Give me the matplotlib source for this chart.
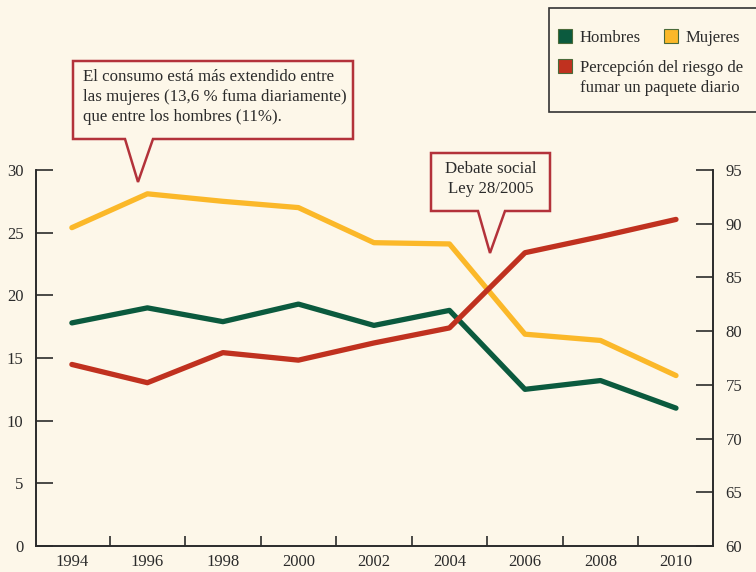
import matplotlib
matplotlib.use('Agg')
import matplotlib.pyplot as plt
from matplotlib.patches import Rectangle, Polygon

plt.rcParams['font.family'] = ['Liberation Serif', 'DejaVu Serif']

# datos
YEARS = [1994, 1996, 1998, 2000, 2002, 2004, 2006, 2008, 2010]
HOMBRES = [17.8, 19.0, 17.9, 19.3, 17.6, 18.8, 12.5, 13.2, 11.0]
MUJERES = [25.4, 28.1, 27.5, 27.0, 24.2, 24.1, 16.9, 16.4, 13.6]
RIESGO = [76.9, 75.2, 78.0, 77.3, 78.9, 80.3, 87.3, 88.8, 90.4]

LEFT_TICKS = [0, 5, 10, 15, 20, 25, 30]
RIGHT_TICKS = [60, 65, 70, 75, 80, 85, 90, 95]

BG = '#fdf7e9'
GREEN = '#0b5a3e'
YELLOW = '#fbb829'
RED = '#c0311f'
BOX_RED = '#b3323a'
TXT = '#2b2b2b'

W, H = 756, 572
fig = plt.figure(figsize=(W / 100, H / 100), dpi=100, facecolor=BG)


def px(x, y):
    """pixel (desde arriba-izquierda) -> fracción de figura"""
    return x / W, 1 - y / H


ax = fig.add_axes([36 / W, 26 / H, (713 - 36) / W, (546 - 170) / H])
ax.set_facecolor(BG)
ax2 = ax.twinx()

ax.plot(YEARS, HOMBRES, color=GREEN, lw=3.8, solid_capstyle='round', zorder=3)
ax.plot(YEARS, MUJERES, color=YELLOW, lw=3.8, solid_capstyle='round', zorder=2)
ax2.plot(YEARS, RIESGO, color=RED, lw=3.8, solid_capstyle='round', zorder=2)

ax.set_xlim(1993.05, 2010.98)
ax.set_ylim(0, 30)
ax2.set_ylim(60, 95)

ax.set_xticks(YEARS)
ax.set_xticklabels([str(y) for y in YEARS])
ax.set_xticks([1995, 1997, 1999, 2001, 2003, 2005, 2007, 2009], minor=True)
ax.tick_params(axis='x', which='major', length=0, pad=6, labelsize=12, labelcolor=TXT)
ax.tick_params(axis='x', which='minor', direction='in', length=7, width=1.2, color=TXT)

ax.set_yticks(LEFT_TICKS)
ax.tick_params(axis='y', direction='in', length=12, width=1.2, color=TXT,
               labelsize=12, labelcolor=TXT, pad=9)
ax2.set_yticks(RIGHT_TICKS)
ax2.tick_params(axis='y', direction='in', length=12, width=1.2, color=TXT,
                labelsize=12, labelcolor=TXT, pad=9)

for a in (ax, ax2):
    a.spines['top'].set_visible(False)
    for s in ('left', 'right', 'bottom'):
        a.spines[s].set_color(TXT)
        a.spines[s].set_linewidth(1.2)

# leyenda
x0, y1 = px(549, 8)
x1, y0 = px(760, 112)
fig.patches.append(Rectangle((x0, y0), x1 - x0, y1 - y0, transform=fig.transFigure,
                             facecolor=BG, edgecolor='#333333', lw=1.2))
items = [(558, 29, GREEN, 'Hombres'), (664, 29, YELLOW, 'Mujeres'),
         (558, 59, RED, 'Percepción del riesgo de\nfumar un paquete diario')]
for sx, sy, col, lab in items:
    fx, fy = px(sx, sy + 14)
    fig.patches.append(Rectangle((fx, fy), 14 / W, 14 / H, transform=fig.transFigure,
                                 facecolor=col, edgecolor='#4a6a3a', lw=0.8))
    tx, ty = px(sx + 22, sy + 1)
    fig.text(tx, ty, lab, ha='left', va='top', fontsize=12, color=TXT, linespacing=1.3)


def callout(box, base, tip):
    l, t, r, b = box
    pts = [(l, t), (r, t), (r, b), (base[1], b), tip, (base[0], b), (l, b)]
    fig.patches.append(Polygon([px(*p) for p in pts], closed=True, transform=fig.transFigure,
                               facecolor=BG, edgecolor=BOX_RED, lw=1.8, zorder=5))
    return l, t, r, b


l, t, r, b = callout((73, 61, 353, 139), (125, 153), (138, 182))
tx, ty = px(83, 69)
fig.text(tx, ty, 'El consumo está más extendido entre\nlas mujeres (13,6 % fuma diariamente)\n'
         'que entre los hombres (11%).', ha='left', va='top', fontsize=12.2,
         color=TXT, linespacing=1.35, zorder=6)

l, t, r, b = callout((431, 153, 550, 211), (478, 505), (490, 253))
tx, ty = px((l + r) / 2, 161)
fig.text(tx, ty, 'Debate social\nLey 28/2005', ha='center', va='top', fontsize=12.2,
         color=TXT, linespacing=1.35, zorder=6)

fig.savefig('out.png', dpi=100, facecolor=BG)
